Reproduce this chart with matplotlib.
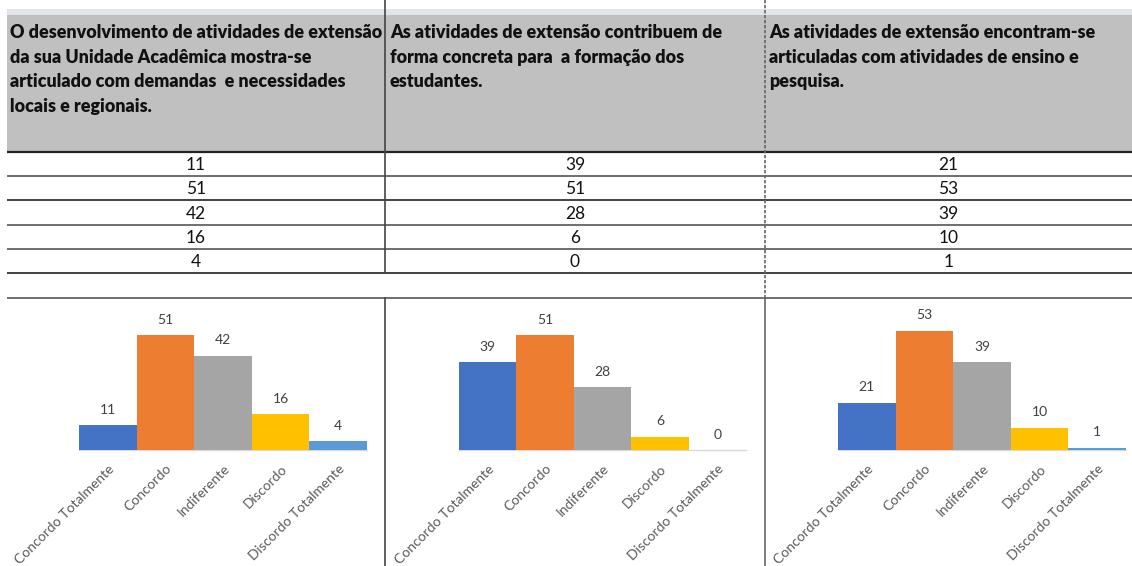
import matplotlib
matplotlib.use("Agg")
import matplotlib.pyplot as plt
from matplotlib.patches import Rectangle

# ---------------- data ----------------
questions = [
    ["O desenvolvimento de atividades de extensão",
     "da sua Unidade Acadêmica mostra-se",
     "articulado com demandas  e necessidades",
     "locais e regionais."],
    ["As atividades de extensão contribuem de",
     "forma concreta para  a formação dos",
     "estudantes."],
    ["As atividades de extensão encontram-se",
     "articuladas com atividades de ensino e",
     "pesquisa."],
]
categories = ["Concordo Totalmente", "Concordo", "Indiferente", "Discordo",
              "Discordo Totalmente"]
q1_values = [11, 51, 42, 16, 4]
q2_values = [39, 51, 28, 6, 0]
q3_values = [21, 53, 39, 10, 1]
series = [q1_values, q2_values, q3_values]
bar_colors = ["#4472C4", "#ED7D31", "#A5A5A5", "#FFC000", "#5B9BD5"]

# ---------------- figure ----------------
W, H = 1132, 566
fig = plt.figure(figsize=(W / 100, H / 100), dpi=100)
bg = fig.add_axes([0, 0, 1, 1])
bg.set_xlim(0, W)
bg.set_ylim(H, 0)
bg.axis("off")

HEAD_FONT = ["Lato", "DejaVu Sans"]
BODY_FONT = ["Lato", "DejaVu Sans"]

# top strip and header band
bg.add_patch(Rectangle((7, 9), W - 7, 6, facecolor="#E1E4E8", edgecolor="none"))
bg.add_patch(Rectangle((7, 15), W - 7, 136, facecolor="#C0C0C0", edgecolor="none"))

col_left = [7, 385, 765]
col_right = [385, 765, W]
text_x = [10, 390, 769]

for ci, lines in enumerate(questions):
    for li, line in enumerate(lines):
        bg.text(text_x[ci], 32.5 + li * 24.6, line, fontsize=12.85, fontweight="heavy",
                family=HEAD_FONT, color="#111111", va="center", ha="left")

# horizontal rules
rows_y = [151.5, 176, 200, 224.5, 249, 273, 297.5]
for i, y in enumerate(rows_y):
    lw = 1.6 if i == 0 else 1.2
    col = "#222222" if i in (0, 2, 5) else "#555555"
    bg.plot([7, W], [y, y], color=col, lw=lw, solid_capstyle="butt")

# vertical rules
bg.plot([385, 385], [0, 273], color="#444444", lw=1.2)
bg.plot([385, 385], [297.5, H], color="#444444", lw=1.2)
bg.plot([765, 765], [0, 297.5], color="#666666", lw=1.2, ls=(0, (2, 1)))
bg.plot([765, 765], [297.5, H], color="#666666", lw=1.2)

# table values
for ci, vals in enumerate(series):
    cx = (col_left[ci] + col_right[ci]) / 2
    for ri, v in enumerate(vals):
        bg.text(cx, 165 + ri * 24.3, str(v), fontsize=12.5, family=BODY_FONT,
                color="#111111", ha="center", va="center")

# ---------------- bar charts ----------------
chart_x = [(79, 367), (459, 746), (838, 1126)]
base_y, top_y = 450, 300
px_per_unit = 2.25
ymax = (base_y - top_y) / px_per_unit

for ci, vals in enumerate(series):
    x0, x1 = chart_x[ci]
    ax = fig.add_axes([x0 / W, 1 - base_y / H, (x1 - x0) / W, (base_y - top_y) / H])
    ax.patch.set_alpha(0)
    xs = list(range(len(categories)))
    ax.bar(xs, vals, width=1.0, color=bar_colors, edgecolor="none")
    ax.set_xlim(-0.5, len(categories) - 0.5)
    ax.set_ylim(0, ymax)
    for s in ["top", "right", "left"]:
        ax.spines[s].set_visible(False)
    ax.spines["bottom"].set_color("#D9D9D9")
    ax.spines["bottom"].set_linewidth(1.0)
    ax.spines["bottom"].set_zorder(0.5)
    ax.set_yticks([])
    ax.set_xticks(xs)
    ax.set_xticklabels(categories, rotation=45, ha="right", rotation_mode="anchor",
                       fontsize=10, family=BODY_FONT, color="#595959")
    ax.tick_params(axis="x", length=0, pad=9)
    for x, v in zip(xs, vals):
        ax.annotate(str(v), (x, v), xytext=(0, 11), textcoords="offset points",
                    ha="center", va="center", fontsize=10, family=BODY_FONT,
                    color="#404040")

fig.savefig("out.png", dpi=100)
